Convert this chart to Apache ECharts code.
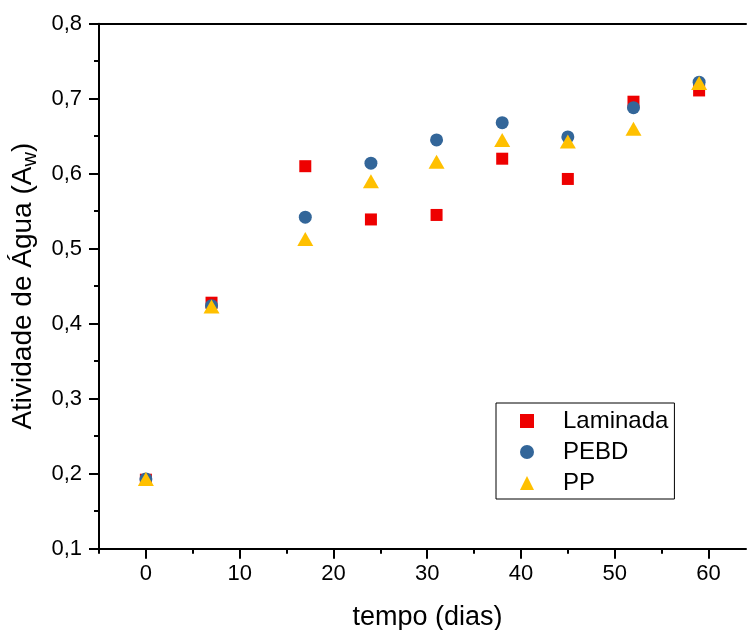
<!DOCTYPE html>
<html>
<head>
<meta charset="utf-8">
<script src="https://cdn.jsdelivr.net/npm/echarts@6/dist/echarts.min.js"></script>
<style>
  html, body { margin: 0; padding: 0; background: #fff; }
  #chart { width: 747px; height: 630px; }
</style>
</head>
<body>
<div id="chart"></div>
<script>
// Storage time in days and water activity per packaging type
const days = [0, 7, 17, 24, 31, 38, 45, 52, 59];
const laminada = [0.192, 0.428, 0.610, 0.539, 0.545, 0.620, 0.593, 0.696, 0.711];
const pebd = [0.193, 0.424, 0.542, 0.614, 0.645, 0.668, 0.649, 0.688, 0.722];
const pp = [0.193, 0.423, 0.513, 0.590, 0.616, 0.645, 0.643, 0.660, 0.721];

const seriesNames = ['Laminada', 'PEBD', 'PP'];
const xMajorTicks = [0, 10, 20, 30, 40, 50, 60];
const xMinorTicks = [-5, 5, 15, 25, 35, 45, 55];

const FONT = "'Liberation Sans', Arial, sans-serif";
const toPairs = (xs, ys) => xs.map((x, i) => [x, ys[i]]);

const xMin = -5, xMax = 64;

const chart = echarts.init(document.getElementById('chart'), null, { renderer: 'canvas' });

chart.setOption({
  backgroundColor: '#ffffff',
  animation: false,
  grid: { left: 99, right: 1, top: 23.7, bottom: 81.3, containLabel: false, outerBoundsMode: 'none' },
  legend: {
    data: seriesNames,
    orient: 'vertical',
    left: 496,
    top: 403,
    padding: [6, 6, 4, 24],
    itemGap: 7,
    itemWidth: 14,
    itemHeight: 14,
    borderColor: '#000',
    borderWidth: 1,
    textStyle: { fontFamily: FONT, fontSize: 24, lineHeight: 22, color: '#000', padding: [0, 0, 0, 24] }
  },
  xAxis: [
    {
      type: 'value',
      min: xMin,
      max: xMax,
      position: 'bottom',
      name: 'tempo (dias)',
      nameLocation: 'middle',
      nameGap: 55,
      nameTextStyle: { fontFamily: FONT, fontSize: 27, color: '#000', padding: [0, 0, 0, 10] },
      axisLine: { show: true, onZero: false, lineStyle: { color: '#000', width: 2 } },
      axisTick: { show: true, inside: false, length: 10, customValues: xMajorTicks,
                  lineStyle: { color: '#000', width: 2 } },
      axisLabel: { show: true, customValues: xMajorTicks, margin: 14,
                   fontFamily: FONT, fontSize: 22, color: '#000' },
      splitLine: { show: false }
    },
    {
      // upper frame line
      type: 'value',
      min: xMin,
      max: xMax,
      position: 'top',
      axisLine: { show: true, onZero: false, lineStyle: { color: '#000', width: 2 } },
      axisTick: { show: false },
      axisLabel: { show: false },
      splitLine: { show: false }
    },
    {
      // minor ticks along the bottom axis
      type: 'value',
      min: xMin,
      max: xMax,
      position: 'bottom',
      axisLine: { show: false, onZero: false },
      axisTick: { show: true, inside: false, length: 5, customValues: xMinorTicks,
                  lineStyle: { color: '#000', width: 2 } },
      axisLabel: { show: false },
      splitLine: { show: false }
    }
  ],
  yAxis: {
    type: 'value',
    min: 0.1,
    max: 0.8,
    interval: 0.1,
    name: 'Atividade de Água (A{sub|w})',
    nameLocation: 'middle',
    nameGap: 55,
    nameTextStyle: {
      fontFamily: FONT, fontSize: 28, lineHeight: 28, color: '#000',
      rich: {
        // subscript: top padding pushes the glyph below the baseline
        sub: { fontFamily: FONT, fontSize: 20, color: '#000', lineHeight: 16,
               padding: [14, 0, 0, 0], verticalAlign: 'middle' }
      }
    },
    axisLine: { show: true, onZero: false, lineStyle: { color: '#000', width: 2 } },
    axisTick: { show: true, inside: false, length: 10, lineStyle: { color: '#000', width: 2 } },
    minorTick: { show: true, splitNumber: 2, length: 5, lineStyle: { color: '#000', width: 2 } },
    axisLabel: {
      margin: 17,
      fontFamily: FONT, fontSize: 22, color: '#000',
      formatter: v => v.toFixed(1).replace('.', ',')
    },
    splitLine: { show: false },
    minorSplitLine: { show: false }
  },
  series: [
    {
      name: 'Laminada',
      type: 'scatter',
      xAxisIndex: 0,
      symbol: 'rect',
      symbolSize: 12,
      itemStyle: { color: '#ee0000', opacity: 1 },
      data: toPairs(days, laminada)
    },
    {
      name: 'PEBD',
      type: 'scatter',
      xAxisIndex: 0,
      symbol: 'circle',
      symbolSize: 13,
      itemStyle: { color: '#336699', opacity: 1 },
      data: toPairs(days, pebd)
    },
    {
      name: 'PP',
      type: 'scatter',
      xAxisIndex: 0,
      symbol: 'triangle',
      symbolSize: [16, 14],
      itemStyle: { color: '#ffc000', opacity: 1 },
      data: toPairs(days, pp)
    }
  ]
});
</script>
</body>
</html>
